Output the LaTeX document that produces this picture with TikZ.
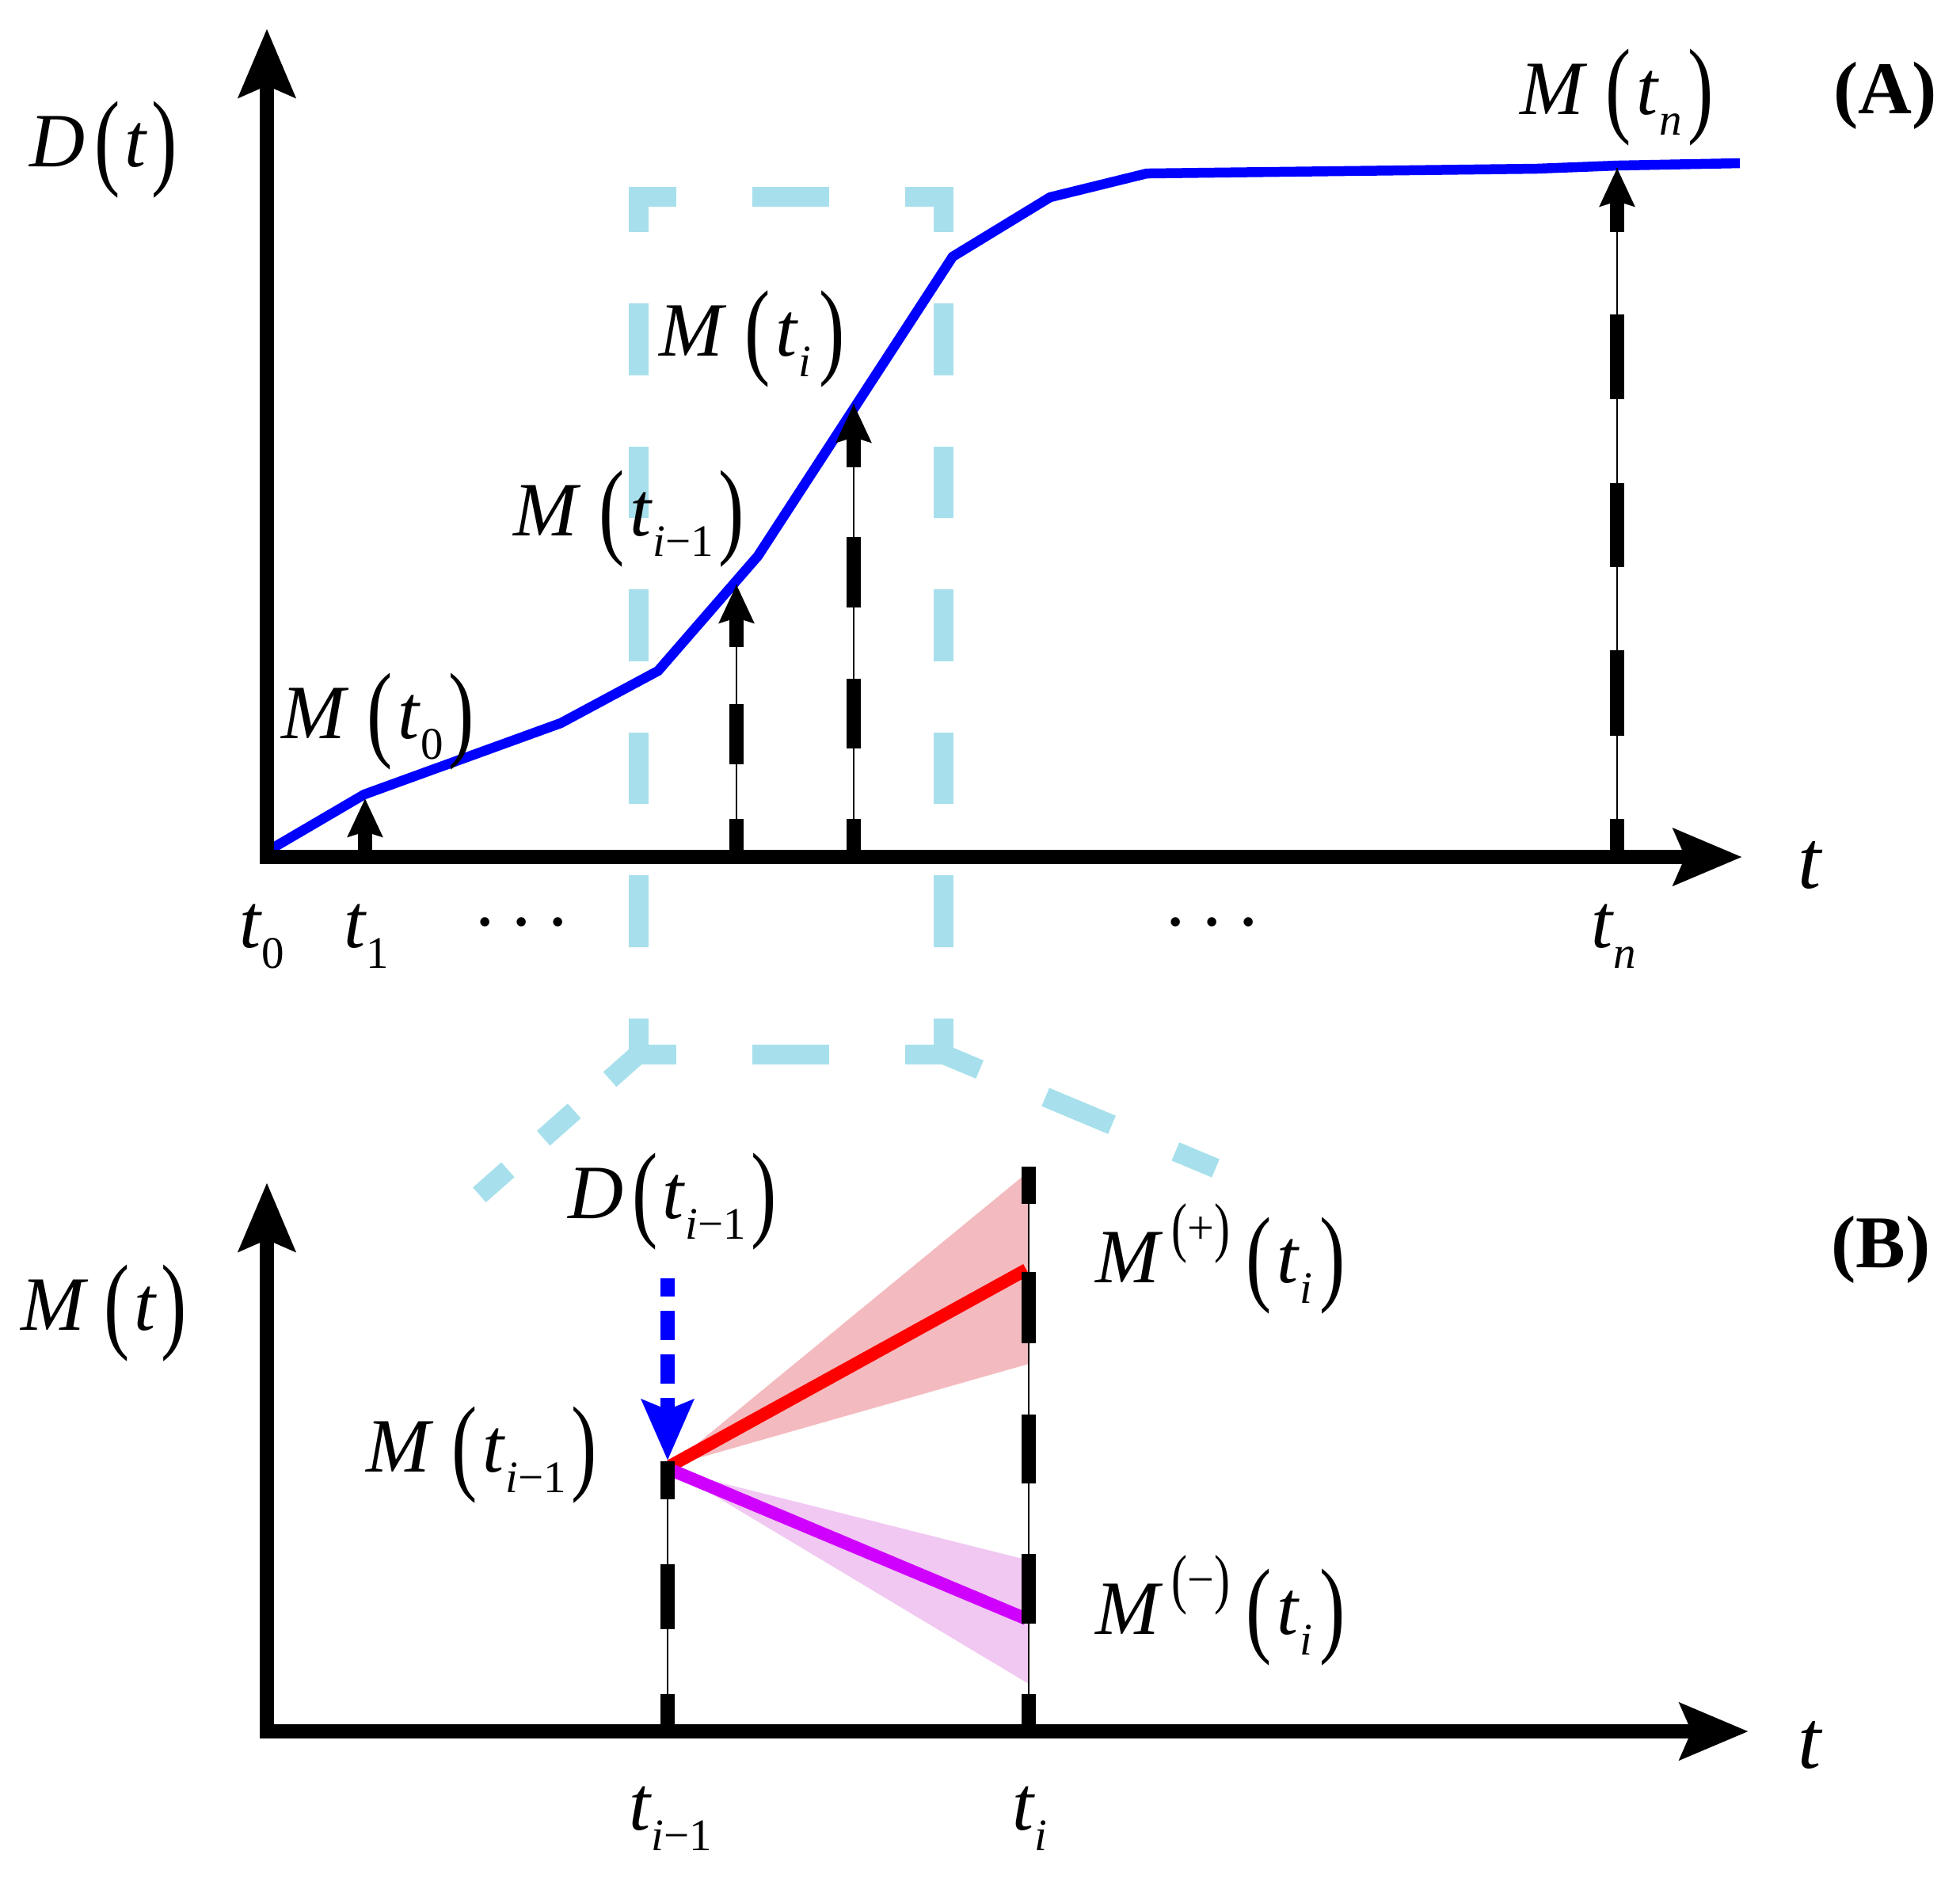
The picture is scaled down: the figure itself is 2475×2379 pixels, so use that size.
\documentclass[tikz,border=0pt]{standalone}
\usepackage{fontspec}
\setmainfont{Liberation Serif}
\usetikzlibrary{arrows.meta}
\definecolor{lblue}{RGB}{167,224,236}
\definecolor{cblue}{RGB}{0,0,255}
\definecolor{cred}{RGB}{255,0,0}
\definecolor{cmag}{RGB}{208,0,255}
\definecolor{redcone}{RGB}{243,187,191}
\definecolor{magcone}{RGB}{240,200,242}
\newcommand{\LPar}{\raisebox{-0.12em}{\scalebox{1}[1.39]{(}}}
\newcommand{\RPar}{\raisebox{-0.12em}{\scalebox{1}[1.39]{)}}}
\newcommand{\mysub}[1]{\raisebox{-0.27em}{\fontsize{5.7}{6}\selectfont #1}}
\newcommand{\mysup}[1]{\raisebox{0.5em}{\fontsize{6}{6.5}\selectfont #1}}
\begin{document}
\begin{tikzpicture}[x=0.1pt,y=-0.1pt,
  lbl/.style={inner sep=0pt, anchor=base west, font=\fontsize{9.7}{11.6}\selectfont},
  axisln/.style={line width=1.8pt, line join=miter,
    arrows={Stealth[length=8.6pt,width=7pt,inset=1.4pt]-Stealth[length=8.6pt,width=7pt,inset=1.4pt]}},
  thinln/.style={line width=0.15pt},
  tickln/.style={line width=1.8pt},
  headtip/.style={-{Stealth[length=4.8pt,width=4.3pt,inset=0.6pt]}},
  dcurve/.style={cblue, line width=1.25pt},
  lb/.style={lblue, line width=2.5pt, line cap=rect}]
\useasboundingbox (0,0) rectangle (2475,2379);

% ---------- Panel A ----------
\coordinate (R1) at (806,248);
\coordinate (R2) at (1191,248);
\coordinate (R3) at (1191,1331);
\coordinate (R4) at (806,1331);
\coordinate (DL) at (605,1509);
\coordinate (DR) at (1535,1475);
\draw[lb, dash pattern=on 7.125pt off 12.125pt, dash phase=3.565pt] (R1) -- (R2);
\draw[lb, dash pattern=on 7.125pt off 12.125pt, dash phase=3.565pt] (R4) -- (R3);
\draw[lb, dash pattern=on 6.525pt off 11.525pt, dash phase=3.265pt] (R1) -- (R4);
\draw[lb, dash pattern=on 6.525pt off 11.525pt, dash phase=3.265pt] (R2) -- (R3);
\draw[lb, dash pattern=on 3.55pt off 8.5pt on 2.7pt off 8.5pt on 2.3pt off 3pt] (R4) -- (DL);
\draw[lb, dash pattern=on 3.75pt off 11.5pt on 6.6pt off 11.2pt on 3pt off 3pt] (R3) -- (DR);

\coordinate (c0) at (337,1075);
\coordinate (c1) at (460,1003);
\coordinate (c2) at (708,913);
\coordinate (c3) at (831,847);
\coordinate (c4) at (957,702);
\coordinate (c5) at (1203,324);
\coordinate (c6) at (1326,249);
\coordinate (c7) at (1448,219);
\coordinate (c8) at (1940,213);
\coordinate (c9) at (2042,209);
\coordinate (c10) at (2197,206);
\draw[dcurve] (c0) -- (c1) -- (c2) -- (c3) -- (c4) -- (c5) -- (c6) -- (c7) -- (c8) -- (c9) -- (c10);

\coordinate (a1b) at (461,1082);  \coordinate (a1t) at (461,1008);
\coordinate (a2b) at (930,1082);  \coordinate (a2t) at (930,738);
\coordinate (a3b) at (1078,1082); \coordinate (a3t) at (1078,510);
\coordinate (a4b) at (2042,1082); \coordinate (a4t) at (2042,212);
\draw[tickln, headtip] (a1b) -- (a1t);
\draw[thinln] (a2b) -- (a2t);
\draw[tickln, headtip, dash pattern=on 4.8pt off 6.9pt on 7.6pt off 7.2pt on 30pt] (a2b) -- (a2t);
\draw[thinln] (a3b) -- (a3t);
\draw[tickln, headtip, dash pattern=on 4.8pt off 8.9pt on 8.8pt off 9pt on 8.9pt off 8.8pt on 30pt] (a3b) -- (a3t);
\draw[thinln] (a4b) -- (a4t);
\draw[tickln, headtip, dash pattern=on 4.8pt off 10.5pt on 10.8pt off 10.5pt on 10.6pt off 10.6pt on 10.7pt off 10.4pt on 30pt] (a4b) -- (a4t);

\coordinate (Atop) at (337,36);
\coordinate (AO) at (337,1082);
\coordinate (Aright) at (2200,1082);
\draw[axisln] (Atop) -- (AO) -- (Aright);

\node[lbl] (lDt) at (36,210) {\textit{D}\kern0.12em\LPar\kern0.06em\textit{t}\kern0.05em\RPar};
\node[lbl] (lMt0) at (353,932) {\textit{M}\kern0.24em\LPar\kern0.07em\textit{t}\mysub{0}\kern0.07em\RPar};
\node[lbl] (lMtim1) at (646,676) {\textit{M}\kern0.24em\LPar\kern0.07em\textit{t}\mysub{\textit{i}−1}\kern0.07em\RPar};
\node[lbl] (lMti) at (830,449) {\textit{M}\kern0.24em\LPar\kern0.07em\textit{t}\mysub{\textit{i}}\kern0.1em\RPar};
\node[lbl] (lMtn) at (1917,144) {\textit{M}\kern0.24em\LPar\kern0.07em\textit{t}\mysub{\textit{n}}\kern0.08em\RPar};
\node[lbl, font=\fontsize{9.4}{11}\selectfont\bfseries] (lA) at (2313,143) {(A)};
\node[lbl] (lt0) at (300,1196) {\textit{t}\mysub{0}};
\node[lbl] (lt1) at (432,1196) {\textit{t}\mysub{1}};
\node[lbl, anchor=base] (ld1) at (659,1196) {·\kern0.14em·\kern0.14em·};
\node[lbl, anchor=base] (ld2) at (1531,1196) {·\kern0.14em·\kern0.14em·};
\node[lbl] (ltn) at (2007,1196) {\textit{t}\mysub{\textit{n}}};
\node[lbl, font=\fontsize{10.5}{12}\selectfont] (ltA) at (2268,1121) {\textit{t}};

% ---------- Panel B ----------
\coordinate (ap) at (846,1851);
\coordinate (am) at (850,1857);
\coordinate (rp) at (1296,1603);
\coordinate (rm) at (1296,2044);
\fill[redcone] (ap) -- (1299,1479) -- (1299,1722) -- cycle;
\fill[magcone] (am) -- (1299,1970) -- (1299,2126) -- cycle;
\draw[cred, line width=1.6pt] (ap) -- (rp);
\draw[cmag, line width=1.6pt] (am) -- (rm);

\coordinate (b1b) at (843,2186);  \coordinate (b1t) at (843,1845);
\coordinate (b2b) at (1299,2186); \coordinate (b2t) at (1299,1473);
\draw[thinln] (b1b) -- (b1t);
\draw[tickln, dash pattern=on 4.7pt off 8.2pt on 8.2pt off 8.2pt on 6pt] (b1b) -- (b1t);
\draw[thinln] (b2b) -- (b2t);
\draw[tickln, dash pattern=on 4.7pt off 8.9pt on 8.8pt off 8.9pt on 8.7pt off 9pt on 9pt off 8.6pt on 6pt] (b2b) -- (b2t);

\coordinate (bas) at (843,1614);
\coordinate (bat) at (843,1844);
\draw[cblue, line width=1.8pt, dash pattern=on 3.7pt off 1.8pt, dash phase=1.4pt,
  -{Stealth[length=7.6pt,width=6.4pt,inset=1.2pt]}] (bas) -- (bat);

\coordinate (Btop) at (337,1493);
\coordinate (BO) at (337,2186);
\coordinate (Bright) at (2208,2186);
\draw[axisln] (Btop) -- (BO) -- (Bright);

\node[lbl] (lMt) at (25,1679) {\textit{M}\kern0.2em\LPar\kern0.06em\textit{t}\kern0.05em\RPar};
\node[lbl] (lDtim1) at (715,1538) {\textit{D}\kern0.12em\LPar\kern0.06em\textit{t}\mysub{\textit{i}−1}\kern0.07em\RPar};
\node[lbl] (lMtim1B) at (460,1858) {\textit{M}\kern0.24em\LPar\kern0.07em\textit{t}\mysub{\textit{i}−1}\kern0.07em\RPar};
\node[lbl] (lMp) at (1381,1619) {\textit{M}\kern0.12em\mysup{\LPar+\RPar}\kern0.2em\LPar\kern0.07em\textit{t}\mysub{\textit{i}}\kern0.1em\RPar};
\node[lbl] (lMm) at (1381,2063) {\textit{M}\kern0.12em\mysup{\LPar−\RPar}\kern0.2em\LPar\kern0.07em\textit{t}\mysub{\textit{i}}\kern0.1em\RPar};
\node[lbl, font=\fontsize{9.4}{11}\selectfont\bfseries] (lB) at (2310,1600) {(B)};
\node[lbl] (ltim1) at (792,2310) {\textit{t}\mysub{\textit{i}−1}};
\node[lbl] (lti) at (1276,2310) {\textit{t}\mysub{\textit{i}}};
\node[lbl, font=\fontsize{10.5}{12}\selectfont] (ltB) at (2268,2232) {\textit{t}};
\end{tikzpicture}
\end{document}
